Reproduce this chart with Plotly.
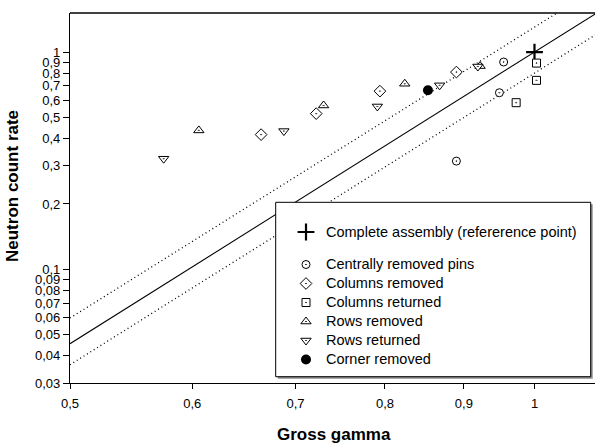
import plotly.graph_objects as go

# ---- data ----
ref_x = [1.0]
ref_y = [1.0]

central_x = [0.955, 0.949, 0.890]
central_y = [0.900, 0.650, 0.315]

colrem_x = [0.665, 0.722, 0.794, 0.890]
colrem_y = [0.417, 0.521, 0.661, 0.809]

colret_x = [1.003, 1.003, 0.973]
colret_y = [0.890, 0.741, 0.585]

rowrem_x = [0.606, 0.730, 0.824, 0.922]
rowrem_y = [0.436, 0.568, 0.715, 0.862]

rowret_x = [0.575, 0.688, 0.791, 0.868, 0.919]
rowret_y = [0.323, 0.433, 0.562, 0.703, 0.858]

corner_x = [0.853]
corner_y = [0.667]

# fitted line and +/- band (endpoints)
fit_x = [0.5, 1.1]
fit_y = [0.0455, 1.530]
upper_y = [0.0597, 1.990]
lower_y = [0.0364, 1.224]

y_tickvals = [0.03, 0.04, 0.05, 0.06, 0.07, 0.08, 0.09, 0.1, 0.2, 0.3, 0.4, 0.5, 0.6, 0.7, 0.8, 0.9, 1]
y_ticktext = ["0,03", "0,04", "0,05", "0,06", "0,07", "0,08", "0,09", "0,1", "0,2", "0,3", "0,4", "0,5", "0,6", "0,7", "0,8", "0,9", "1"]
x_tickvals = [0.5, 0.6, 0.7, 0.8, 0.9, 1]
x_ticktext = ["0,5", "0,6", "0,7", "0,8", "0,9", "1"]

FONT = "Arial, Liberation Sans, sans-serif"
W, H = 595, 444
L, R, T, B = 70, 0, 13, 61
PW, PH = W - L - R, H - T - B


def px_x(p):
    return (p - L) / PW


def px_y(p):
    return (H - B - p) / PH


def lg(name):
    return '<span style="font-size:14.5px">' + name + "</span>"


fig = go.Figure()

# lines
fig.add_trace(go.Scatter(x=fit_x, y=fit_y, mode="lines", line=dict(color="black", width=1.1),
                         showlegend=False, hoverinfo="skip"))
for yy in (upper_y, lower_y):
    fig.add_trace(go.Scatter(x=fit_x, y=yy, mode="lines",
                             line=dict(color="black", width=1.3, dash="1px,3px"),
                             showlegend=False, hoverinfo="skip"))

mk = dict(color="white", line=dict(color="black", width=1))

fig.add_trace(go.Scatter(x=ref_x, y=ref_y, mode="markers", name=lg("Complete assembly (refererence point)"),
                         legendgroup="a",
                         marker=dict(symbol="cross-thin", size=12, color="black",
                                     line=dict(color="black", width=2.2))))
fig.add_trace(go.Scatter(x=central_x, y=central_y, mode="markers", name=lg("Centrally removed pins"),
                         legendgroup="b", marker=dict(symbol="circle-dot", size=8, **mk)))
fig.add_trace(go.Scatter(x=colrem_x, y=colrem_y, mode="markers", name=lg("Columns removed"),
                         legendgroup="b", marker=dict(symbol="diamond-dot", size=9, **mk)))
fig.add_trace(go.Scatter(x=colret_x, y=colret_y, mode="markers", name=lg("Columns returned"),
                         legendgroup="b", marker=dict(symbol="square-dot", size=8, **mk)))
fig.add_trace(go.Scatter(x=rowrem_x, y=rowrem_y, mode="markers", name=lg("Rows removed"),
                         legendgroup="b", marker=dict(symbol="triangle-up-dot", size=9, **mk)))
fig.add_trace(go.Scatter(x=rowret_x, y=rowret_y, mode="markers", name=lg("Rows returned"),
                         legendgroup="b", marker=dict(symbol="triangle-down-dot", size=9, **mk)))
fig.add_trace(go.Scatter(x=corner_x, y=corner_y, mode="markers", name=lg("Corner removed"),
                         legendgroup="b", marker=dict(symbol="circle", size=10, color="black")))

x_range = [-0.30103, -0.30103 + PW / 1543.0]
y_range = [-1.52288, -1.52288 + PH / 217.3]

# legend box with shadow
bx0, by0, bx1, by1 = 275.7, 202.3, 590.7, 376.7
shapes = [
    dict(type="rect", xref="paper", yref="paper", layer="above",
         x0=px_x(bx0 + 2), x1=px_x(bx1 + 2), y0=px_y(by1 + 2), y1=px_y(by0 + 2),
         fillcolor="#8c8c8c", line=dict(width=0)),
    dict(type="rect", xref="paper", yref="paper", layer="above",
         x0=px_x(bx0), x1=px_x(bx1), y0=px_y(by1), y1=px_y(by0),
         fillcolor="white", line=dict(color="black", width=1)),
    dict(type="line", xref="paper", yref="paper", x0=0, x1=1, y0=1, y1=1,
         line=dict(color="black", width=1.3)),
]

annotations = [
    dict(text="<b>Gross gamma</b>", xref="paper", yref="paper", x=px_x(334), y=px_y(434),
         xanchor="center", yanchor="middle", showarrow=False,
         font=dict(family=FONT, size=17, color="black")),
    dict(text="<b>Neutron count rate</b>", xref="paper", yref="paper", x=px_x(12), y=px_y(186),
         xanchor="center", yanchor="middle", showarrow=False, textangle=-90,
         font=dict(family=FONT, size=17, color="black")),
]

fig.update_layout(
    width=W, height=H,
    margin=dict(l=L, r=R, t=T, b=B, pad=0),
    paper_bgcolor="white", plot_bgcolor="white",
    font=dict(family=FONT, size=13, color="black"),
    xaxis=dict(type="log", range=x_range, tickvals=x_tickvals, ticktext=x_ticktext,
               showgrid=False, zeroline=False, showline=True, linecolor="black", linewidth=1.3,
               ticks="outside", ticklen=5, tickwidth=1, tickcolor="black",
               tickfont=dict(family=FONT, size=13), ticklabelstandoff=3, automargin=False),
    yaxis=dict(type="log", range=y_range, tickvals=y_tickvals, ticktext=y_ticktext,
               showgrid=False, zeroline=False, showline=True, linecolor="black", linewidth=1.3,
               ticks="outside", ticklen=6, tickwidth=1, tickcolor="black",
               tickfont=dict(family=FONT, size=13), automargin=False),
    showlegend=True,
    legend=dict(x=px_x(286), y=px_y(217.5), xanchor="left", yanchor="top",
                bgcolor="rgba(0,0,0,0)", borderwidth=0, tracegroupgap=13.5,
                font=dict(family=FONT, size=11.5, color="black"), itemsizing="trace"),
    shapes=shapes,
    annotations=annotations,
)

fig.write_html("out.html", config={"displayModeBar": False},
               post_script="document.body.style.margin='0';document.body.style.overflow='hidden';")
